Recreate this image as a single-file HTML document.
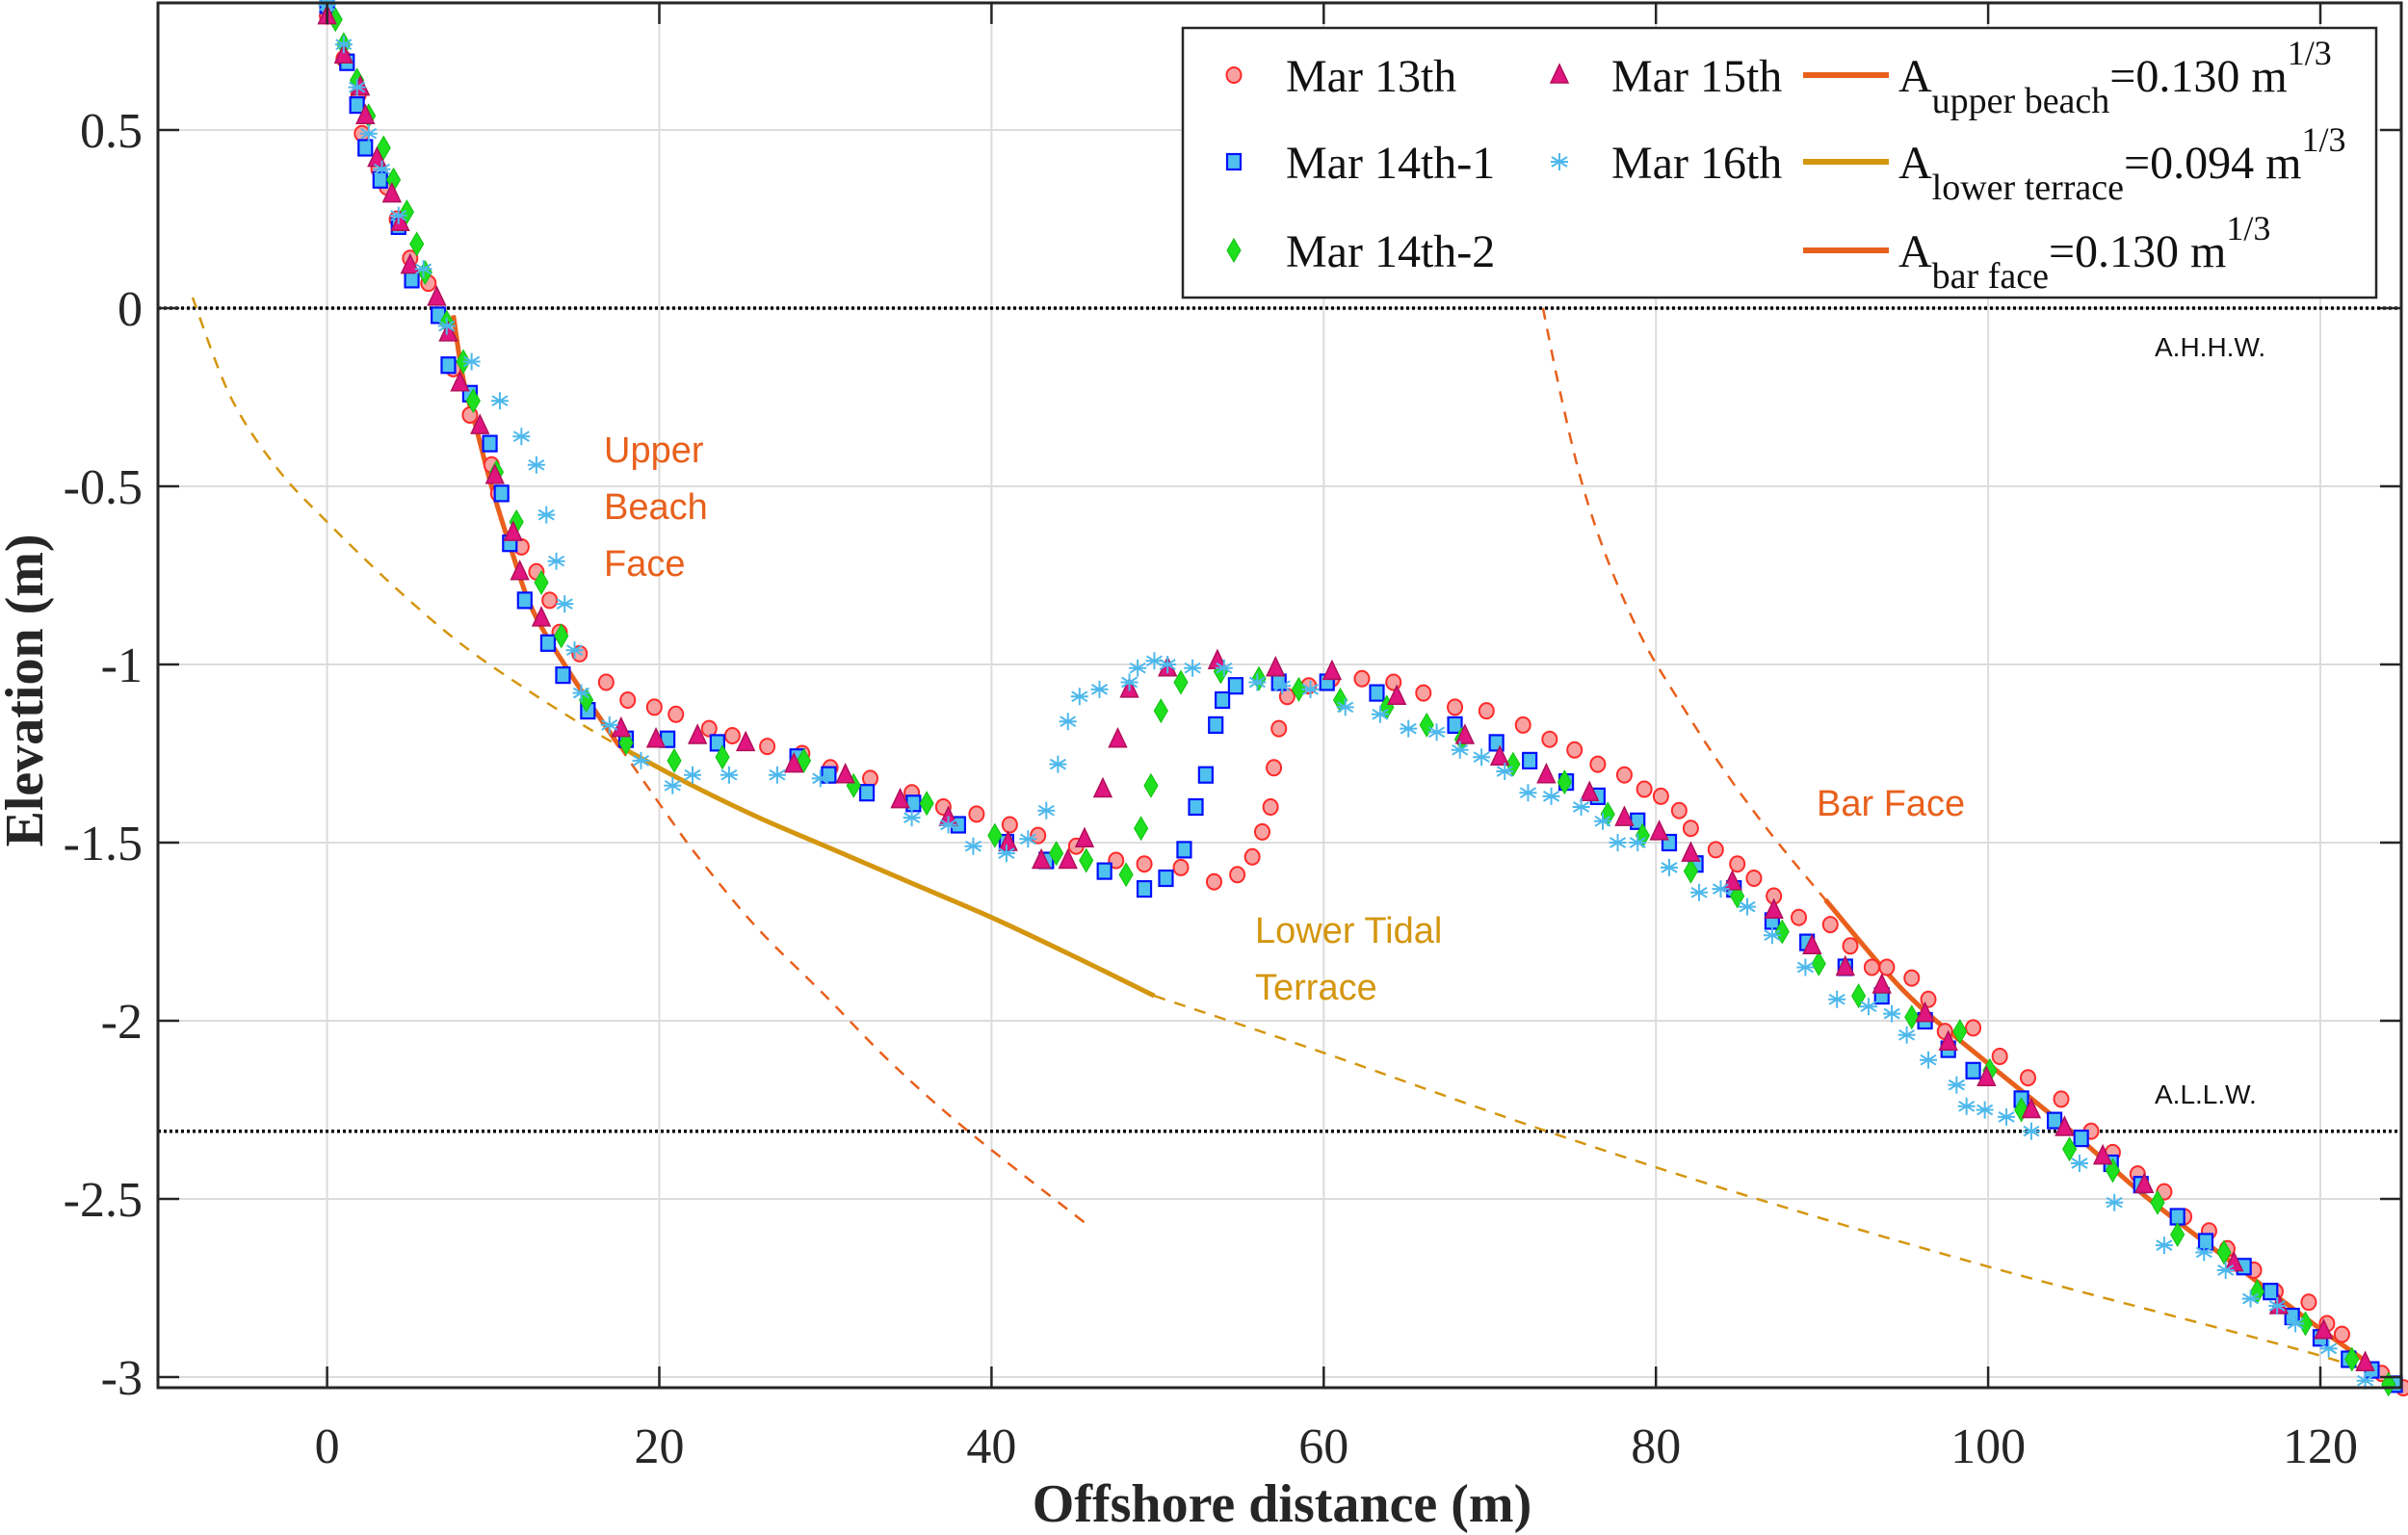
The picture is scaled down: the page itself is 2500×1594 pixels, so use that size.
<!DOCTYPE html>
<html><head><meta charset="utf-8"><style>
html,body{margin:0;padding:0;background:#fff;}
svg{display:block;}
</style></head><body>
<svg id="chart" width="2500" height="1594" viewBox="0 0 2500 1594" xmlns="http://www.w3.org/2000/svg">
<rect x="0" y="0" width="2500" height="1594" fill="#fff"/>
<g id="grid"></g>
<g id="refs"></g>
<g id="curves"></g>
<g id="marks"></g>
<g id="axes"></g>
<g id="labels">
  <text x="627" y="480" font-family="Liberation Sans, sans-serif" font-size="38" fill="#E8601C">Upper</text>
  <text x="627" y="539" font-family="Liberation Sans, sans-serif" font-size="38" fill="#E8601C">Beach</text>
  <text x="627" y="598" font-family="Liberation Sans, sans-serif" font-size="38" fill="#E8601C">Face</text>
  <text x="1886" y="847" font-family="Liberation Sans, sans-serif" font-size="38" fill="#E8601C">Bar Face</text>
  <text x="1303" y="979" font-family="Liberation Sans, sans-serif" font-size="38" fill="#D4960F">Lower Tidal</text>
  <text x="1303" y="1038" font-family="Liberation Sans, sans-serif" font-size="38" fill="#D4960F">Terrace</text>
  <text x="2237" y="370" font-family="Liberation Sans, sans-serif" font-size="28" fill="#111">A.H.H.W.</text>
  <text x="2237" y="1146" font-family="Liberation Sans, sans-serif" font-size="28" fill="#111">A.L.L.W.</text>
</g>
<g id="legend"></g>
</svg>
<script>
// ---- data (offshore distance m, elevation m) ----
const xTicks = [0, 20, 40, 60, 80, 100, 120];
const yTicks = [0.5, 0, -0.5, -1, -1.5, -2, -2.5, -3];
const refLevels = [0, -2.31];
const mar13 = [[0,0.82],[1.0,0.70],[1.9,0.60],[2.1,0.49],[3.1,0.39],[3.6,0.34],[4.2,0.25],[5.0,0.14],[6.1,0.07],[7.6,-0.17],[8.6,-0.30],[9.9,-0.44],[10.3,-0.52],[11.7,-0.67],[12.6,-0.74],[13.4,-0.82],[14.0,-0.91],[15.2,-0.97],[16.8,-1.05],[18.1,-1.10],[19.7,-1.12],[21.0,-1.14],[23.0,-1.18],[24.4,-1.20],[26.5,-1.23],[28.6,-1.25],[30.3,-1.29],[32.7,-1.32],[35.2,-1.36],[37.1,-1.40],[39.1,-1.42],[41.1,-1.45],[42.8,-1.48],[45.1,-1.51],[47.5,-1.55],[49.2,-1.56],[51.4,-1.57],[53.4,-1.61],[54.8,-1.59],[55.7,-1.54],[56.3,-1.47],[56.8,-1.40],[57.0,-1.29],[57.3,-1.18],[57.8,-1.09],[59.1,-1.06],[60.5,-1.04],[62.3,-1.04],[64.2,-1.05],[66.0,-1.08],[67.9,-1.12],[69.8,-1.13],[72.0,-1.17],[73.6,-1.21],[75.1,-1.24],[76.5,-1.28],[78.1,-1.31],[79.3,-1.35],[80.3,-1.37],[81.4,-1.41],[82.1,-1.46],[83.6,-1.52],[84.9,-1.56],[85.9,-1.60],[87.1,-1.65],[88.6,-1.71],[90.5,-1.73],[91.7,-1.79],[93.0,-1.85],[93.9,-1.85],[95.4,-1.88],[96.4,-1.94],[97.4,-2.03],[99.1,-2.02],[100.7,-2.10],[102.4,-2.16],[104.4,-2.22],[106.2,-2.31],[107.5,-2.37],[109.0,-2.43],[110.6,-2.48],[111.8,-2.55],[113.3,-2.59],[114.4,-2.64],[116.0,-2.70],[117.3,-2.76],[119.3,-2.79],[120.4,-2.85],[121.3,-2.88],[123.7,-2.99],[125.0,-3.03]];
const mar14a = [[0,0.85],[1.2,0.69],[1.8,0.57],[2.3,0.45],[3.2,0.36],[4.3,0.23],[5.1,0.08],[6.7,-0.02],[7.3,-0.16],[8.6,-0.24],[9.8,-0.38],[10.5,-0.52],[11.0,-0.66],[11.9,-0.82],[13.3,-0.94],[14.2,-1.03],[15.7,-1.13],[18.0,-1.21],[20.5,-1.21],[23.5,-1.22],[28.3,-1.26],[30.2,-1.31],[32.5,-1.36],[35.3,-1.39],[38.0,-1.45],[40.9,-1.50],[43.3,-1.55],[46.8,-1.58],[49.2,-1.63],[50.5,-1.60],[51.6,-1.52],[52.3,-1.40],[52.9,-1.31],[53.5,-1.17],[53.9,-1.10],[54.7,-1.06],[57.3,-1.05],[60.2,-1.05],[63.2,-1.08],[67.9,-1.17],[70.4,-1.22],[72.4,-1.27],[74.6,-1.33],[76.5,-1.37],[78.9,-1.44],[80.8,-1.50],[82.4,-1.56],[84.7,-1.63],[87.0,-1.72],[89.1,-1.78],[91.4,-1.85],[93.6,-1.93],[96.2,-2.00],[97.6,-2.08],[99.1,-2.14],[102.0,-2.22],[104.0,-2.28],[105.6,-2.33],[107.4,-2.40],[109.2,-2.46],[111.4,-2.55],[113.1,-2.62],[115.4,-2.69],[117.0,-2.76],[118.3,-2.83],[120.0,-2.89],[121.7,-2.95],[123.1,-2.98],[124.5,-3.02]];
const mar14b = [[0.5,0.81],[1.0,0.74],[1.8,0.64],[2.5,0.54],[3.4,0.45],[4.0,0.36],[4.8,0.27],[5.4,0.18],[5.9,0.10],[7.2,-0.04],[8.2,-0.15],[8.8,-0.26],[10.2,-0.46],[11.4,-0.60],[12.9,-0.77],[14.1,-0.92],[15.6,-1.10],[18.0,-1.22],[20.9,-1.27],[23.8,-1.26],[28.7,-1.27],[31.7,-1.34],[36.1,-1.39],[40.2,-1.48],[43.9,-1.53],[45.7,-1.55],[48.1,-1.59],[49.0,-1.46],[49.6,-1.34],[50.2,-1.13],[51.4,-1.05],[53.8,-1.02],[56.1,-1.04],[58.5,-1.07],[61.0,-1.10],[63.8,-1.12],[66.2,-1.17],[68.3,-1.21],[71.4,-1.28],[74.5,-1.33],[77.1,-1.42],[79.2,-1.48],[82.1,-1.58],[84.9,-1.65],[87.6,-1.75],[89.8,-1.84],[92.2,-1.93],[95.4,-1.99],[98.3,-2.03],[100.1,-2.14],[102.0,-2.25],[104.9,-2.36],[107.5,-2.42],[110.2,-2.51],[111.4,-2.60],[114.2,-2.65],[116.2,-2.76],[119.1,-2.85],[121.9,-2.95],[124.1,-3.02]];
const mar15 = [[0,0.82],[1.0,0.71],[2.0,0.62],[2.3,0.54],[3.0,0.42],[3.9,0.32],[4.4,0.24],[5.0,0.12],[6.6,0.03],[7.3,-0.07],[8.0,-0.21],[9.2,-0.33],[10.1,-0.47],[11.2,-0.63],[11.6,-0.74],[12.9,-0.87],[17.7,-1.18],[19.8,-1.21],[22.3,-1.20],[25.2,-1.22],[28.1,-1.28],[31.2,-1.31],[34.5,-1.38],[37.4,-1.43],[41.0,-1.50],[43.0,-1.55],[44.6,-1.55],[45.6,-1.49],[46.7,-1.35],[47.6,-1.21],[48.3,-1.07],[50.6,-1.01],[53.6,-0.99],[57.1,-1.01],[60.5,-1.02],[64.4,-1.09],[68.5,-1.20],[70.6,-1.26],[73.4,-1.31],[76.0,-1.36],[78.1,-1.43],[80.2,-1.47],[82.1,-1.53],[84.6,-1.61],[87.1,-1.69],[89.4,-1.79],[91.4,-1.85],[93.6,-1.90],[96.2,-1.98],[97.6,-2.06],[99.9,-2.16],[102.6,-2.25],[104.6,-2.30],[106.9,-2.38],[109.4,-2.46],[114.8,-2.68],[117.5,-2.80],[120.2,-2.87],[122.7,-2.96]];
const mar16 = [[0,0.85],[1.0,0.74],[1.8,0.62],[2.5,0.49],[3.3,0.39],[4.3,0.26],[5.8,0.11],[7.2,-0.05],[8.7,-0.15],[10.4,-0.26],[11.7,-0.36],[12.6,-0.44],[13.2,-0.58],[13.8,-0.71],[14.3,-0.83],[14.9,-0.96],[15.3,-1.08],[17.0,-1.17],[18.9,-1.27],[20.8,-1.34],[22.0,-1.31],[24.2,-1.31],[27.1,-1.31],[29.7,-1.32],[35.2,-1.43],[37.4,-1.45],[38.9,-1.51],[40.9,-1.53],[42.2,-1.49],[43.3,-1.41],[44.0,-1.28],[44.6,-1.16],[45.3,-1.09],[46.5,-1.07],[48.3,-1.05],[48.8,-1.01],[49.8,-0.99],[50.6,-1.00],[52.1,-1.01],[54.0,-1.01],[56.0,-1.05],[57.5,-1.06],[59.2,-1.07],[61.3,-1.12],[63.4,-1.14],[65.1,-1.18],[66.8,-1.19],[68.2,-1.24],[69.5,-1.26],[70.9,-1.30],[72.3,-1.36],[73.7,-1.37],[75.5,-1.40],[76.8,-1.44],[77.7,-1.50],[78.9,-1.50],[80.8,-1.57],[82.6,-1.64],[83.9,-1.63],[85.5,-1.68],[87.0,-1.76],[89.0,-1.85],[90.9,-1.94],[92.8,-1.96],[94.2,-1.98],[95.1,-2.04],[96.4,-2.11],[98.1,-2.18],[98.7,-2.24],[99.8,-2.25],[101.1,-2.27],[102.6,-2.31],[105.5,-2.40],[107.6,-2.51],[110.6,-2.63],[113.0,-2.65],[114.3,-2.70],[115.8,-2.78],[117.4,-2.80],[118.5,-2.85],[120.5,-2.92],[122.7,-3.01]];
// fitted profiles
const upperSolid = [[7.6,-0.02],[8.2,-0.2],[9.0,-0.34],[9.9,-0.5],[11.1,-0.68],[12.4,-0.85],[14.7,-1.03],[17.6,-1.23]];
const upperDashed = [[17.6,-1.23],[20.6,-1.43],[22.5,-1.55],[25.9,-1.74],[30,-1.93],[34,-2.12],[38.6,-2.31],[45.7,-2.57]];
const terraceDashedL = [[-8.1,0.03],[-5.8,-0.25],[-3,-0.45],[0,-0.6],[4,-0.78],[8,-0.94],[12,-1.07],[15.4,-1.17],[18,-1.24]];
const terraceSolid = [[18,-1.24],[22,-1.34],[26,-1.43],[30,-1.51],[35,-1.61],[40,-1.71],[45,-1.82],[49.8,-1.93]];
const terraceDashedR = [[49.8,-1.93],[60,-2.09],[72.8,-2.3],[84.7,-2.48],[100,-2.69],[120,-2.94],[125,-3.03]];
const barDashed = [[73.2,0],[74.3,-0.25],[75.6,-0.5],[77.2,-0.72],[79.2,-0.93],[81.5,-1.11],[84,-1.29],[87,-1.48],[90.2,-1.66]];
const barSolid = [[90.2,-1.66],[95,-1.92],[100,-2.12],[105,-2.31],[109.4,-2.49],[115,-2.69],[120,-2.865],[125,-3.03]];

// ---- scales ----
const PL=164, PR=2493, PT=3, PB=1441;
function X(v){ return 339.6 + 17.245*v; }
function Y(v){ return 320 - 370*v; }
const NS="http://www.w3.org/2000/svg";
function mk(tag, attrs, parent){
  const e=document.createElementNS(NS,tag);
  for(const k in attrs) e.setAttribute(k, attrs[k]);
  parent.appendChild(e); return e;
}
const grid=document.getElementById('grid');
const axes=document.getElementById('axes');
const refs=document.getElementById('refs');
const curves=document.getElementById('curves');
const marks=document.getElementById('marks');
const legend=document.getElementById('legend');

xTicks.forEach(v=>{
  const l=mk('line',{x1:X(v),x2:X(v),y1:PT,y2:PB,stroke:'#dcdcdc','stroke-width':2},grid);
  
  
});
yTicks.forEach(v=>{
  const l=mk('line',{x1:PL,x2:PR,y1:Y(v),y2:Y(v),stroke:'#dcdcdc','stroke-width':2},grid);
  
  
});
refLevels.forEach(v=>{
  const l=mk('line',{x1:PL,x2:PR,y1:Y(v),y2:Y(v),stroke:'#000','stroke-width':3.5,'stroke-dasharray':'3 3'},refs);
  
  
});
function pathD(pts){
  const p=pts.map(d=>[X(d[0]),Y(d[1])]);
  let d='M'+p[0][0]+','+p[0][1];
  for(let i=0;i<p.length-1;i++){
    const p0=p[Math.max(0,i-1)],p1=p[i],p2=p[i+1],p3=p[Math.min(p.length-1,i+2)];
    const c1=[p1[0]+(p2[0]-p0[0])/6,p1[1]+(p2[1]-p0[1])/6];
    const c2=[p2[0]-(p3[0]-p1[0])/6,p2[1]-(p3[1]-p1[1])/6];
    d+=' C'+c1[0]+','+c1[1]+' '+c2[0]+','+c2[1]+' '+p2[0]+','+p2[1];
  }
  return d;
}
const OR='#E8601C', GD='#D4960F';
function curve(pts,color,w,dash,name){
  const e=mk('path',{d:pathD(pts),fill:'none',stroke:color,'stroke-width':w},curves);
  if(dash) e.setAttribute('stroke-dasharray',dash);
  
  
}
curve(upperDashed,OR,2.5,'12 10','upper-beach-fit-extension');
curve(barDashed,OR,2.5,'12 10','bar-face-fit-extension');
curve(terraceDashedL,GD,2.5,'12 10','lower-terrace-fit-extension-left');
curve(terraceDashedR,GD,2.5,'12 10','lower-terrace-fit-extension-right');
curve(terraceSolid,GD,5,null,'lower-terrace-fit');

function marker(kind,cx,cy,parent){
  let e;
  if(kind==='circle') e=mk('ellipse',{cx:cx,cy:cy,rx:7.5,ry:8,fill:'#F7A1A1',stroke:'#FF2A2A','stroke-width':2},parent);
  else if(kind==='square') e=mk('rect',{x:cx-7,y:cy-8,width:14,height:16,fill:'#4FC1EE',stroke:'#0010FF','stroke-width':2.2},parent);
  else if(kind==='triangle') e=mk('path',{d:`M${cx},${cy-11} L${cx+9},${cy+8} L${cx-9},${cy+8} Z`,fill:'#E0157F',stroke:'#B0105A','stroke-width':1.5},parent);
  else if(kind==='diamond') e=mk('path',{d:`M${cx},${cy-12} L${cx+7},${cy} L${cx},${cy+12} L${cx-7},${cy} Z`,fill:'#1EE01E',stroke:'#10C010','stroke-width':1},parent);
  else {
    e=mk('path',{d:`M${cx},${cy-9} L${cx},${cy+9} M${cx-8},${cy-5} L${cx+8},${cy+5} M${cx-8},${cy+5} L${cx+8},${cy-5} M${cx-9},${cy} L${cx+9},${cy}`,fill:'none',stroke:'#4DB8EC','stroke-width':2},parent);
  }
  return e;
}
function series(data,kind,name){
  const g=mk('g',{},marks);
  
  
  data.forEach(d=>{
    const e=marker(kind,X(d[0]),Y(d[1]),g);
    
    
  });
}
series(mar13,'circle','mar-13th-series');
series(mar14a,'square','mar-14th-1-series');
series(mar14b,'diamond','mar-14th-2-series');
series(mar15,'triangle','mar-15th-series');
series(mar16,'star','mar-16th-series');
curve(upperSolid,OR,5,null,'upper-beach-fit');
curve(barSolid,OR,5,null,'bar-face-fit');

const box=mk('rect',{x:PL,y:PT,width:PR-PL,height:PB-PT,fill:'none',stroke:'#262626','stroke-width':3},axes);


xTicks.forEach(v=>{
  const t=mk('line',{x1:X(v),x2:X(v),y1:PB,y2:PB-22,stroke:'#262626','stroke-width':2.5},axes);
  
  
  const t2=mk('line',{x1:X(v),x2:X(v),y1:PT,y2:PT+22,stroke:'#262626','stroke-width':2.5},axes);
  
  
  const lb=mk('text',{x:X(v),y:1519,'text-anchor':'middle','font-family':'Liberation Serif, serif','font-size':52,fill:'#262626'},axes);
  lb.textContent=String(v);
  
  
});
yTicks.forEach(v=>{
  const t=mk('line',{x1:PL,x2:PL+22,y1:Y(v),y2:Y(v),stroke:'#262626','stroke-width':2.5},axes);
  
  
  const t2=mk('line',{x1:PR,x2:PR-22,y1:Y(v),y2:Y(v),stroke:'#262626','stroke-width':2.5},axes);
  
  
  const lb=mk('text',{x:148,y:Y(v)+18,'text-anchor':'end','font-family':'Liberation Serif, serif','font-size':52,fill:'#262626'},axes);
  lb.textContent=String(v);
  
  
});
const xt=mk('text',{x:1331,y:1580,'text-anchor':'middle','font-family':'Liberation Serif, serif','font-size':56,'font-weight':'bold',fill:'#262626'},axes);
xt.textContent='Offshore distance (m)';


const yt=mk('text',{transform:'translate(44,717) rotate(-90)','text-anchor':'middle','font-family':'Liberation Serif, serif','font-size':56,'font-weight':'bold',fill:'#262626'},axes);
yt.textContent='Elevation (m)';



const lb=mk('rect',{x:1228,y:29,width:1239,height:280,fill:'#fff',stroke:'#262626','stroke-width':2.5},legend);


const legItems=[['circle',1281,78,'Mar 13th'],['square',1281,168,'Mar 14th-1'],['diamond',1281,260,'Mar 14th-2'],['triangle',1619,78,'Mar 15th'],['star',1619,168,'Mar 16th']];
legItems.forEach(it=>{
  const m=marker(it[0],it[1],it[2],legend);
  
  
  const t=mk('text',{x:it[1]+54,y:it[2]+17,'font-family':'Liberation Serif, serif','font-size':48,fill:'#111'},legend);
  t.textContent=it[3];
  
  
});
const fitItems=[[78,OR,'upper beach','0.130'],[168,GD,'lower terrace','0.094'],[260,OR,'bar face','0.130']];
fitItems.forEach(it=>{
  const l=mk('line',{x1:1872,x2:1961,y1:it[0],y2:it[0],stroke:it[1],'stroke-width':6},legend);
  
  
  const t=mk('text',{x:1971,y:it[0]+17,'font-family':'Liberation Serif, serif','font-size':48,fill:'#111'},legend);
  
  
  t.innerHTML=`A<tspan font-size="38" dy="22">${it[2]}</tspan><tspan dy="-22">=${it[3]} m</tspan><tspan font-size="36" dy="-28">1/3</tspan>`;
});
</script>
</body></html>
